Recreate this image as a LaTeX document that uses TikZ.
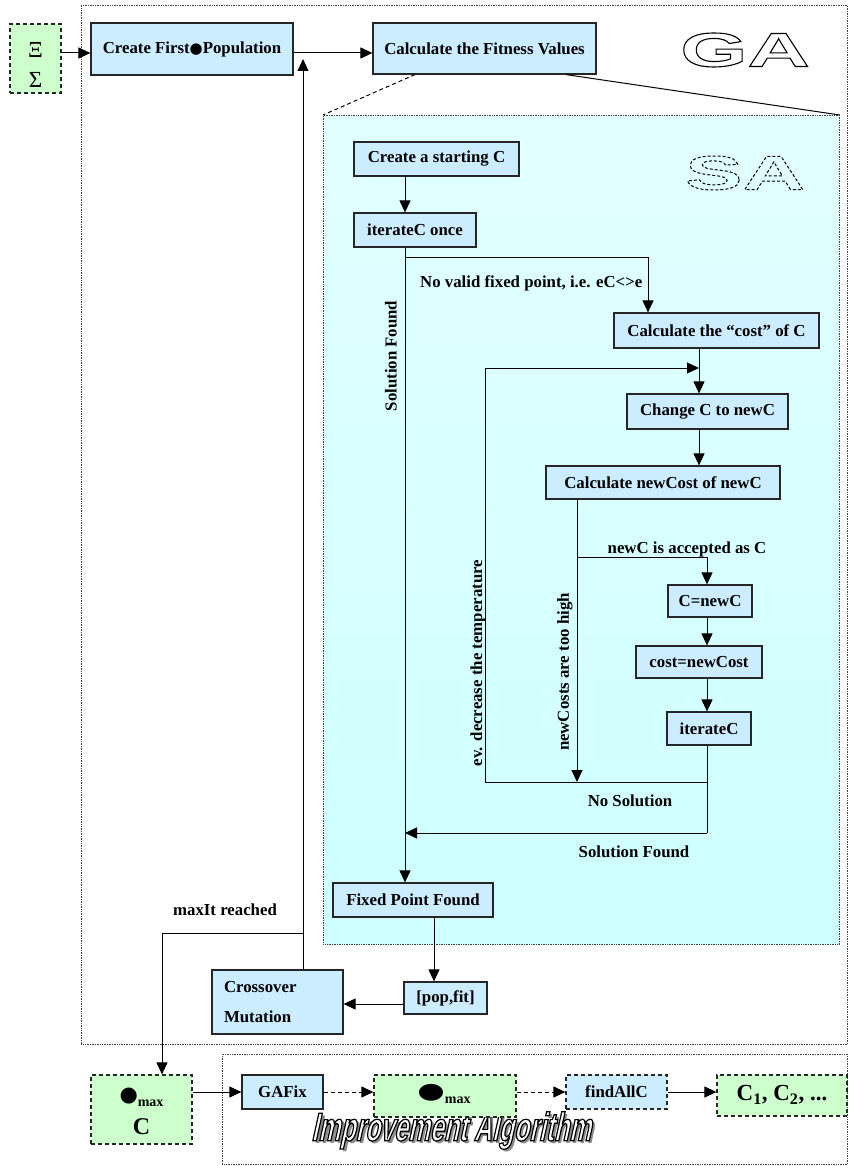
\documentclass[tikz,border=0pt]{standalone}
\usepackage{fontspec}
\usepackage{graphicx}
\setmainfont{Liberation Serif}
\newfontfamily\symfont{DejaVu Sans}
\newfontfamily\widefont{Liberation Sans}[FakeStretch=1.8]
\newfontfamily\condfont{Liberation Sans}[FakeStretch=0.62,FakeSlant=0.22]
\usetikzlibrary{arrows.meta,calc}
\definecolor{boxblue}{RGB}{204,236,255}
\definecolor{boxgreen}{RGB}{204,255,204}
\definecolor{satop}{RGB}{226,255,255}
\definecolor{sabot}{RGB}{206,255,255}
\newcommand\lbl{\fontsize{16.8}{20}\selectfont\bfseries}
\newcommand\greek{\fontsize{23}{23}\selectfont}
\newcommand\blob{{\symfont\fontsize{15}{15}\selectfont\char"25CF}}
\newcommand\bigblob{{\symfont\fontsize{21}{21}\selectfont\char"25CF}}
\newcommand\rendered[2]{\special{pdf:literal q #1}#2\special{pdf:literal Q}}
\tikzset{
  box/.style={draw=black!85, line width=1.2, fill=boxblue, font=\lbl, inner sep=0pt},
  gbox/.style={draw=black!85, line width=1.2, fill=boxgreen, dashed, dash pattern=on 4 off 3, inner sep=0pt},
  dbox/.style={box, dash pattern=on 4 off 3},
  cont/.style={draw=black!75, line width=0.8, dash pattern=on 0.8 off 0.9, inner sep=0pt},
  arr/.style={-{Triangle[length=12,width=11]}, line width=1},
  ln/.style={line width=1},
  lab/.style={font=\lbl, inner sep=0pt},
}
\begin{document}
\begin{tikzpicture}[x=1pt,y=-1pt]
\useasboundingbox (0,0) rectangle (848,1166);
% containers
\node[cont, minimum width=766, minimum height=1039, anchor=north west] (ga) at (81,5) {};
\node[cont, minimum width=516, minimum height=829, anchor=north west, top color=satop, bottom color=sabot] (sa) at (323,115) {};
\node[cont, minimum width=625, minimum height=110, anchor=north west] (ia) at (222,1054) {};
% big outlined titles
\node[inner sep=0pt] (gat) at (745,50) {\widefont\bfseries\fontsize{48}{48}\selectfont\rendered{1 Tr 1.1 w}{GA}};
\node[inner sep=0pt] (sat) at (745,173) {\widefont\bfseries\fontsize{48}{48}\selectfont\rendered{1 Tr 1 w [3 2] 0 d}{SA}};
\node[inner sep=0pt] (iat) at (451,1132) {\condfont\bfseries\fontsize{40}{40}\selectfont\rlap{\hspace{3pt}\raisebox{-3pt}{\color{black!45}Improvement Algorithm}}{\color{white}\rendered{0 G 2 Tr 1.2 w}{Improvement Algorithm}}};
% boxes
\node[gbox, minimum width=51, minimum height=69] (inp) at (35.5,58.5) {};
\node[font=\greek, inner sep=0pt] (xi) at (35.5,50) {Ξ};
\node[font=\greek, inner sep=0pt] (sig) at (35.5,80) {Σ};
\node[box, minimum width=202, minimum height=52] (cfp) at (192,49) {Create First\blob Population};
\node[box, minimum width=223, minimum height=51] (cfv) at (484.5,48.5) {Calculate the Fitness Values};
\node[box, minimum width=165, minimum height=34] (csc) at (436.5,159) {Create a starting C};
\node[box, minimum width=122, minimum height=34] (ico) at (415,230) {iterateC once};
\node[box, minimum width=205, minimum height=35] (cost) at (716.5,330.5) {Calculate the ``cost'' of C};
\node[box, minimum width=161, minimum height=35] (chg) at (707.5,411.5) {Change C to newC};
\node[box, minimum width=234, minimum height=33] (ncost) at (663,482.5) {Calculate newCost of newC};
\node[box, minimum width=84, minimum height=32] (cnew) at (710,601) {C=newC};
\node[box, minimum width=126, minimum height=32] (cst) at (699,662) {cost=newCost};
\node[box, minimum width=84, minimum height=33] (itc) at (709,728.5) {iterateC};
\node[box, minimum width=160, minimum height=34] (fpf) at (413,900) {Fixed Point Found};
\node[box, minimum width=83, minimum height=32] (pf) at (445.5,998) {[pop,fit]};
\node[box, minimum width=131, minimum height=64, text width=107, align=left] (cm) at (277.5,1002) {Crossover\\[10pt]Mutation};
\node[gbox, minimum width=101, minimum height=69] (cmax) at (141.5,1109.5) {};
\node[lab] (cmaxt) at (141.5,1097) {\bigblob\raisebox{-5pt}{\fontsize{14}{14}\selectfont max}};
\node[lab, font=\bfseries\fontsize{24}{24}\selectfont] (cmaxc) at (141.5,1127) {C};
\node[box, minimum width=81, minimum height=34] (gafix) at (282.5,1092) {GAFix};
\node[gbox, minimum width=142, minimum height=42] (bmax) at (445,1096) {};
\node[lab] (bmaxt) at (444,1094) {\scalebox{1.5}[1.05]{\bigblob}\raisebox{-5pt}{\fontsize{14}{14}\selectfont max}};
\node[dbox, minimum width=101, minimum height=34] (fac) at (616.5,1092) {findAllC};
\node[gbox, minimum width=130, minimum height=41] (cs) at (782,1095.5) {};
\node[lab, font=\bfseries\fontsize{23}{23}\selectfont] (cst2) at (782,1095) {C\textsubscript{1}, C\textsubscript{2}, ...};
% coordinates
\coordinate (up) at (303,59);
\coordinate (mx) at (162,933);
\coordinate (sx) at (405,257);
\coordinate (bx) at (648,257);
\coordinate (cx) at (699,368);
\coordinate (lp) at (485,782);
\coordinate (nx) at (577,557);
\coordinate (ix) at (707,833);
\coordinate (fx) at (434,950);
% top row connectors
\draw[arr] (inp.east |- 0,53) -- (cfp.west |- 0,53);
\draw[arr] (cfp.east |- 0,53) -- (cfv.west |- 0,53);
\draw[arr] (up |- cm.north) -- (up);
\draw[arr] (up |- mx) -- (mx) -- (mx |- cmax.north);
% zoom lines
\draw[ln, dashed, dash pattern=on 4 off 3] ([xshift=-69.5]cfv.south) -- (sa.north west);
\draw[ln] ([xshift=81.5]cfv.south) -- (sa.north east);
% SA flow
\draw[arr] (sx |- csc.south) -- (sx |- ico.north);
\draw[arr] (sx |- ico.south) -- (sx |- fpf.north);
\draw[arr] (sx) -- (bx) -- (bx |- cost.north);
\draw[arr] (cx |- cost.south) -- (cx |- chg.north);
\draw[arr] (cx |- chg.south) -- (cx |- ncost.north);
\draw[arr] (nx |- ncost.south) -- (nx |- lp);
\draw[arr] (nx) -- (ix |- nx) -- (ix |- cnew.north);
\draw[arr] (ix |- cnew.south) -- (ix |- cst.north);
\draw[arr] (ix |- cst.south) -- (ix |- itc.north);
\draw[ln] (ix |- itc.south) -- (ix);
\draw[arr] (ix) -- (sx |- ix);
\draw[arr] (ix |- lp) -- (lp) -- (lp |- cx) -- (cx);
\draw[arr] (fx |- fpf.south) -- (fx |- pf.north);
\draw[arr] ([yshift=-6]pf.west) -- ([yshift=-2]cm.east);
% bottom row
\draw[arr] (cmax.east |- gafix.west) -- (gafix.west);
\draw[arr, dash pattern=on 4 off 3] (gafix.east) -- (gafix.east -| bmax.west);
\draw[arr, dash pattern=on 4 off 3] (bmax.east |- fac.west) -- (fac.west);
\draw[arr] (fac.east) -- (fac.east -| cs.west);
% labels
\node[lab, anchor=west] (l1) at (420,283) {No valid fixed point, i.e. eC<>e};
\node[lab, rotate=90] (l2) at (391,356) {Solution Found};
\node[lab, rotate=90] (l3) at (478,663) {ev. decrease the temperature};
\node[lab, rotate=90] (l4) at (565,672) {newCosts are too high};
\node[lab] (l5) at (687,549) {newC is accepted as C};
\node[lab] (l6) at (630,801) {No Solution};
\node[lab] (l7) at (634,852) {Solution Found};
\node[lab] (l8) at (225,910) {maxIt reached};
\end{tikzpicture}
\end{document}
